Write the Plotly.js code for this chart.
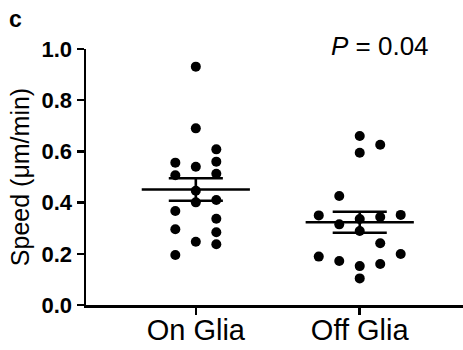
<!DOCTYPE html>
<html>
<head>
<meta charset="utf-8">
<script src="https://cdn.plot.ly/plotly-3.0.1.min.js"></script>
<style>html,body{margin:0;padding:0;background:#fff;}#chart{width:463px;height:350px;}</style>
</head>
<body>
<div id="chart"></div>
<script>
// ---- data ----
const categories = ['On Glia', 'Off Glia'];
const onGlia  = [0.931, 0.690, 0.556, 0.507, 0.367, 0.296, 0.195, 0.540, 0.446, 0.401, 0.247, 0.608, 0.560, 0.513, 0.410, 0.337, 0.284, 0.237];
const offGlia = [0.660, 0.595, 0.626, 0.426, 0.350, 0.315, 0.336, 0.344, 0.352, 0.289, 0.241, 0.189, 0.172, 0.152, 0.160, 0.199, 0.104];
const means = [0.451, 0.323];
const sems  = [0.044, 0.041];
const pText = '<i>P</i> = 0.04';

// ---- scatter column slots (GraphPad-style spreading of overlapping dots) ----
const onGliaSlot  = [0, 0, -1, -1, -1, -1, -1, 0, 0, 0, 0, 1, 1, 1, 1, 1, 1, 1];
const offGliaSlot = [0, 0, 1, -1, -2, -1, 0, 1, 2, 0, 1, -2, -1, 0, 1, 2, 0];
const slotWidth = 0.125;

const groups = [onGlia, offGlia];
const slots = [onGliaSlot, offGliaSlot];

const traces = [];
groups.forEach((vals, g) => {
  traces.push({
    type: 'scatter', mode: 'markers',
    x: vals.map((v, i) => g + slots[g][i] * slotWidth),
    y: vals,
    marker: {color: '#000', size: 10},
    cliponaxis: false,
    hoverinfo: 'y', showlegend: false
  });
});

// mean lines and SEM whiskers
const meanHalf = 0.33, semHalf = 0.165;
const lx = [], ly = [];
means.forEach((m, g) => {
  lx.push(g - meanHalf, g + meanHalf, null);
  ly.push(m, m, null);
  lx.push(g - semHalf, g + semHalf, null);
  ly.push(m + sems[g], m + sems[g], null);
  lx.push(g - semHalf, g + semHalf, null);
  ly.push(m - sems[g], m - sems[g], null);
  lx.push(g, g, null);
  ly.push(m - sems[g], m + sems[g], null);
});
traces.push({
  type: 'scatter', mode: 'lines', x: lx, y: ly,
  line: {color: '#000', width: 2.6}, hoverinfo: 'skip', showlegend: false
});

const font = 'Arial, "Liberation Sans", Helvetica, sans-serif';
const layout = {
  width: 463, height: 350,
  margin: {l: 86, r: 0, t: 49, b: 45},
  paper_bgcolor: '#fff', plot_bgcolor: '#fff',
  font: {family: font, color: '#000'},
  showlegend: false,
  xaxis: {
    range: [-0.67, 1.63],
    tickvals: [0, 1], ticktext: categories,
    showgrid: false, zeroline: false,
    showline: true, linecolor: '#000', linewidth: 2.5,
    ticks: 'outside', ticklen: 7, tickwidth: 2.5, tickcolor: '#000',
    tickfont: {size: 29, color: '#000', family: font},
    ticklabelstandoff: -9,
    fixedrange: true
  },
  yaxis: {
    range: [0, 1.0],
    tickvals: [0, 0.2, 0.4, 0.6, 0.8, 1.0],
    tickformat: '.1f',
    showgrid: false, zeroline: false,
    showline: true, linecolor: '#000', linewidth: 2.5,
    ticks: 'outside', ticklen: 7, tickwidth: 2.5, tickcolor: '#000',
    tickfont: {size: 22, color: '#000', family: font, weight: 'bold'},
    title: {text: 'Speed (μm/min)', font: {size: 25, color: '#000', family: font}, standoff: 5},
    fixedrange: true
  },
  annotations: [
    {text: '<b>c</b>', xref: 'paper', yref: 'paper', x: -0.2095, y: 1.117,
     xanchor: 'left', yanchor: 'middle', showarrow: false,
     font: {size: 23, color: '#000', family: font}},
    {text: pText, xref: 'paper', yref: 'paper', x: 0.780, y: 1.012,
     xanchor: 'center', yanchor: 'middle', showarrow: false,
     font: {size: 26, color: '#000', family: font}}
  ]
};

Plotly.newPlot('chart', traces, layout, {staticPlot: true, displayModeBar: false});
</script>
</body>
</html>
